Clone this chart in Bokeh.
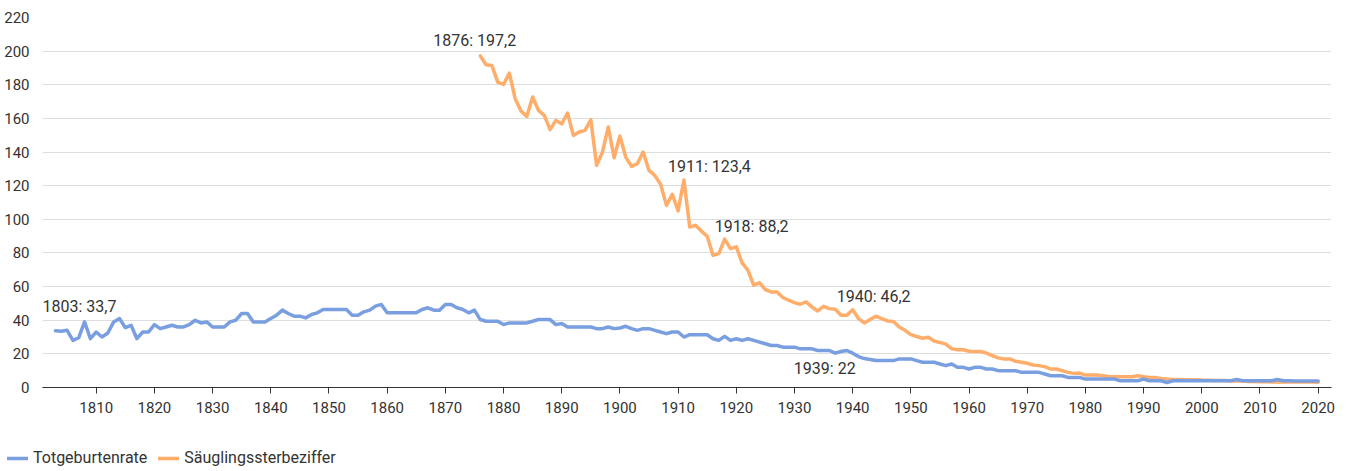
from bokeh.plotting import figure
from bokeh.layouts import column
from bokeh.models import (Range1d, FixedTicker, Legend, LegendItem, Label, ColumnDataSource)
from bokeh.embed import file_html
from bokeh.resources import INLINE

# ---------------- data ----------------
years_still = list(range(1803, 2021))
still_rate = [
    33.7, 33.4, 34, 28, 29.6, 39, 29, 33, 30, 32.4,
    39, 41, 35.6, 37, 29, 33, 33, 37.4, 35, 36,
    37, 36, 36, 37.4, 40, 38.4, 39, 36, 36, 36,
    39, 40, 44, 44, 39, 39, 39, 41, 43, 46,
    44, 42.4, 42.4, 41.4, 43.4, 44.4, 46.4, 46.4, 46.4, 46.4,
    46.4, 43, 43, 45, 46, 48.4, 49.4, 44.4, 44.4, 44.4,
    44.4, 44.4, 44.4, 46.4, 47.4, 46, 46, 49.4, 49.4, 47.4,
    46.4, 44.4, 46, 40.4, 39.4, 39.4, 39.4, 37.4, 38.4, 38.4,
    38.4, 38.4, 39.4, 40.4, 40.4, 40.4, 37.4, 38, 36, 36,
    36, 36, 36, 35, 35, 36, 35, 35.4, 36.4, 35,
    34, 35, 35, 34, 33, 32, 33, 33, 30, 31.4,
    31.4, 31.4, 31.4, 29, 28, 30.4, 28, 29, 28, 29,
    28, 27, 26, 25, 25, 24, 24, 24, 23, 23,
    23, 22, 22, 22, 20.4, 21.4, 22, 20.4, 18.4, 17.2,
    16.6, 16, 16, 16, 16, 17, 17, 17, 16, 15,
    15, 15, 14, 13, 14, 12, 12, 11, 12, 12,
    11, 11, 10, 10, 10, 10, 9, 9, 9, 9,
    8, 7, 7, 7, 6, 6, 6, 5, 5, 5,
    5, 5, 5, 4, 4, 4, 4, 5, 4, 4,
    4, 3, 4, 4, 4, 4, 4, 4, 4, 4,
    4, 4, 4, 4.8, 4, 4, 4, 4, 4, 4,
    4.8, 4, 4, 3.9, 3.9, 3.8, 3.8, 3.8,
]

years_infant = list(range(1876, 2021))
infant_rate = [
    197.2, 191.9, 191.5, 181.6, 180.2, 186.9, 171.7, 164.4, 161.2, 172.7,
    164.8, 161.8, 153.3, 158.8, 156.8, 163.2, 149.9, 151.9, 152.9, 159.2,
    132.1, 140, 154.9, 136.6, 149.5, 137, 131.5, 133.1, 140, 129.1,
    126.1, 120.8, 108.3, 114.9, 105, 123.4, 95.4, 96.4, 93, 89.9,
    78.6, 79.6, 88.2, 82.6, 83.6, 74.1, 69.7, 60.8, 62.2, 58.2,
    56.8, 56.8, 53.5, 51.9, 50.5, 49.5, 50.9, 47.9, 45.5, 48.3,
    46.9, 46.5, 43, 43, 46.2, 41, 38.4, 40.4, 42.4, 41,
    39.6, 39.3, 36, 34, 31.4, 30.3, 29.3, 29.9, 27.6, 26.8,
    25.8, 23.1, 22.4, 22.4, 21.6, 21.4, 21.4, 20.4, 19, 17.6,
    17, 17, 15.6, 15, 14.4, 13.4, 13, 12.4, 11, 11,
    10, 9, 8.4, 8.6, 7.4, 7.4, 7.4, 7, 6.6, 6.4,
    6.4, 6.4, 6.4, 7, 6.4, 6, 6, 5.4, 5, 4.8,
    4.8, 4.6, 4.6, 4.6, 4.4, 4.3, 4.2, 4.2, 4.1, 3.9,
    3.8, 3.9, 3.5, 3.5, 3.4, 3.6, 3.3, 3.3, 3.2, 3.3,
    3.4, 3.3, 3.2, 3.2, 3.1,
]

series_names = ["Totgeburtenrate", "Säuglingssterbeziffer"]
x_ticks = list(range(1810, 2021, 10))
y_ticks = list(range(0, 221, 20))

# annotated points: (series index, year)
annotations = [(0, 1803), (1, 1876), (1, 1911), (1, 1918), (1, 1940), (0, 1939)]

assert len(years_still) == len(still_rate)
assert len(years_infant) == len(infant_rate)

BLUE = "#7a9fe0"
ORANGE = "#ffad6a"
TXT = "#333333"
FONT = "Roboto"
LW = 3.5

p = figure(width=1346, height=440, output_backend="svg", toolbar_location=None,
           x_range=Range1d(1800.77, 2022.29), y_range=Range1d(0, 220),
           min_border_left=42, min_border_right=15, min_border_top=17, min_border_bottom=53)
p.frame_align = False
p.outline_line_color = None
p.background_fill_color = "white"
p.border_fill_color = "white"

p.xgrid.grid_line_color = None
p.ygrid.grid_line_color = "#dedede"
p.ygrid.grid_line_width = 1
p.ygrid.ticker = FixedTicker(ticks=y_ticks[1:])

p.yaxis.ticker = FixedTicker(ticks=y_ticks)
p.yaxis.axis_line_color = None
p.yaxis.major_tick_line_color = None
p.yaxis.minor_tick_line_color = None
p.yaxis.major_label_standoff = 7
p.yaxis.major_label_text_font = FONT
p.yaxis.major_label_text_font_size = "15px"
p.yaxis.major_label_text_color = TXT

p.xaxis.ticker = FixedTicker(ticks=x_ticks)
p.xaxis.axis_line_color = "#333333"
p.xaxis.axis_line_width = 1
p.xaxis.major_tick_line_color = "#333333"
p.xaxis.major_tick_out = 6
p.xaxis.major_tick_in = 0
p.xaxis.minor_tick_line_color = None
p.xaxis.major_label_standoff = 8
p.xaxis.major_label_text_font = FONT
p.xaxis.major_label_text_font_size = "15px"
p.xaxis.major_label_text_color = TXT

src_infant = ColumnDataSource(dict(x=years_infant, y=infant_rate))
src_still = ColumnDataSource(dict(x=years_still, y=still_rate))
r_infant = p.line("x", "y", source=src_infant, line_color=ORANGE, line_width=LW,
                  line_join="round", line_cap="round")
r_still = p.line("x", "y", source=src_still, line_color=BLUE, line_width=LW,
                 line_join="round", line_cap="round")

# label offsets (screen px) relative to the annotated point
offsets = {1803: (-13, 24), 1876: (-47, 15), 1911: (-16, 13), 1918: (-10, 13),
           1940: (-16, 13), 1939: (-53, -18)}

def fmt(v):
    return ("%g" % v).replace(".", ",")

for si, yr in annotations:
    ys = [years_still, years_infant][si]
    vs = [still_rate, infant_rate][si]
    v = vs[ys.index(yr)]
    dx, dy = offsets[yr]
    p.add_layout(Label(x=yr, y=v, x_offset=dx, y_offset=dy, text=f"{yr}: {fmt(v)}",
                       text_font=FONT, text_font_size="16px", text_color=TXT,
                       text_align="left", text_baseline="middle"))

# ---------------- legend strip ----------------
pl = figure(width=1346, height=30, output_backend="svg", toolbar_location=None,
            x_range=Range1d(0, 1), y_range=Range1d(0, 1),
            x_axis_type=None, y_axis_type=None, min_border=0)
pl.frame_align = False
pl.outline_line_color = None
pl.xgrid.grid_line_color = None
pl.ygrid.grid_line_color = None
nan = float("nan")
lg_still = pl.line(x=[nan], y=[nan], line_color=BLUE, line_width=LW, line_cap="round")
lg_infant = pl.line(x=[nan], y=[nan], line_color=ORANGE, line_width=LW, line_cap="round")

legend = Legend(items=[LegendItem(label=series_names[0], renderers=[lg_still]),
                       LegendItem(label=series_names[1], renderers=[lg_infant])],
                orientation="horizontal", location=(7, 3),
                glyph_width=21, glyph_height=16, label_height=16,
                label_standoff=5, spacing=11, padding=0, margin=0,
                border_line_color=None, background_fill_alpha=0,
                label_text_font=FONT, label_text_font_size="16px",
                label_text_color=TXT)
pl.add_layout(legend, "center")

layout = column(p, pl, spacing=0)
open("out.html", "w").write(file_html(layout, INLINE))
